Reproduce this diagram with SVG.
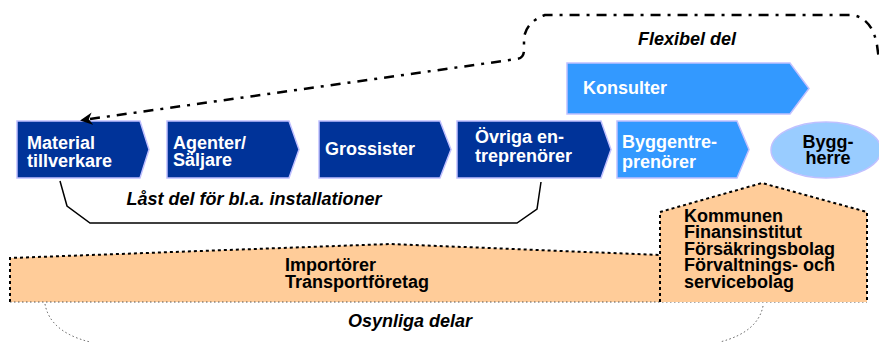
<svg xmlns="http://www.w3.org/2000/svg" width="879" height="342" viewBox="0 0 879 342">
<style>
text{font-family:"Liberation Sans",Arial,sans-serif;font-weight:bold;font-size:18px}
.w{fill:#fff}
.k{fill:#000}
.it{font-style:italic}
.dark{fill:#003399;stroke:#c0c0ff;stroke-width:1.5}
.light{fill:#3399ff;stroke:#c0c0ff;stroke-width:1.5}
.org{fill:#ffcc99;stroke:none}
.dot{fill:none;stroke:#000;stroke-width:2;stroke-dasharray:3 3}
.fdot{fill:none;stroke:#555;stroke-width:1;stroke-dasharray:1.5 2.5}
</style>
<defs>
<marker id="ah" viewBox="0 0 10 10" refX="2" refY="5" markerWidth="5" markerHeight="5" orient="auto-start-reverse" markerUnits="strokeWidth">
<path d="M0,0 L10,5 L0,10 L3,5 z" fill="#000"/>
</marker>
</defs>

<g id="osynliga">
<polygon class="org" points="10,258 390,244 660,255 660,302 10,302"/>
<path class="dot" d="M10,302 L10,258 L390,244 L660,255"/>
<path class="fdot" d="M10,302 L867,302"/>
<text class="k" x="285" y="271">Importörer</text>
<text class="k" x="285" y="288">Transportföretag</text>
</g>

<g id="bestallare">
<polygon class="org" points="660,212 762,183 867,212 867,302 660,302"/>
<path class="dot" d="M660,302 L660,212 L762,183 L867,212 L867,302"/>
<text class="k" x="684" y="222">Kommunen</text>
<text class="k" x="684" y="238">Finansinstitut</text>
<text class="k" x="684" y="255">Försäkringsbolag</text>
<text class="k" x="684" y="271">Förvaltnings- och</text>
<text class="k" x="684" y="288">servicebolag</text>
</g>

<g id="material">
<polygon class="dark" points="17,121 140,121 149,149.5 140,178 17,178"/>
<text class="w" x="27" y="149">Material</text>
<text class="w" x="27" y="167">tillverkare</text>
</g>
<g id="agenter">
<polygon class="dark" points="167,121 289,121 299,149.5 289,178 167,178"/>
<text class="w" x="173" y="149">Agenter/</text>
<text class="w" x="173" y="166">Säljare</text>
</g>
<g id="grossister">
<polygon class="dark" points="319,121 440,121 451,149.5 440,178 319,178"/>
<text class="w" x="325" y="155">Grossister</text>
</g>
<g id="ovriga">
<polygon class="dark" points="457,121 601,121 611,149.5 601,178 457,178"/>
<text class="w" x="475" y="143">Övriga en-</text>
<text class="w" x="475" y="162">treprenörer</text>
</g>
<g id="byggentreprenorer">
<polygon class="light" points="617,121 737,121 749,149.5 737,178 617,178"/>
<text class="w" x="622" y="148">Byggentre-</text>
<text class="w" x="622" y="168">prenörer</text>
</g>
<g id="konsulter">
<polygon class="light" points="567,63 790,63 809,88.5 790,114 567,114"/>
<text class="w" x="583" y="94">Konsulter</text>
</g>
<g id="byggherre">
<ellipse cx="826" cy="150" rx="55" ry="28" fill="#99ccff" stroke="#c0c0ff" stroke-width="1.5"/>
<text class="k" x="828" y="148" text-anchor="middle">Bygg-</text>
<text class="k" x="828" y="164" text-anchor="middle">herre</text>
</g>

<g id="connectors">
<path d="M90,119 L517,59 Q524,58 524,50 L524,38 Q526,22 545,15 L852,15 Q872,18 877,45 L879,60" fill="none" stroke="#000" stroke-width="2.5" stroke-dasharray="10 7 3 7" marker-start="url(#ah)"/>
<path d="M60,181 L67,206 L90,223 L517,223 L537,209 L541,182" fill="none" stroke="#000" stroke-width="1.5"/>
<path class="fdot" d="M45,304 Q50,332 90,342"/>
<path class="fdot" d="M763,306 Q758,332 720,342"/>
</g>

<g id="labels">
<text class="k it" x="687" y="45" text-anchor="middle">Flexibel del</text>
<text class="k it" x="254" y="205" text-anchor="middle">Låst del för bl.a. installationer</text>
<text class="k it" x="410" y="327" text-anchor="middle">Osynliga delar</text>
</g>
</svg>
